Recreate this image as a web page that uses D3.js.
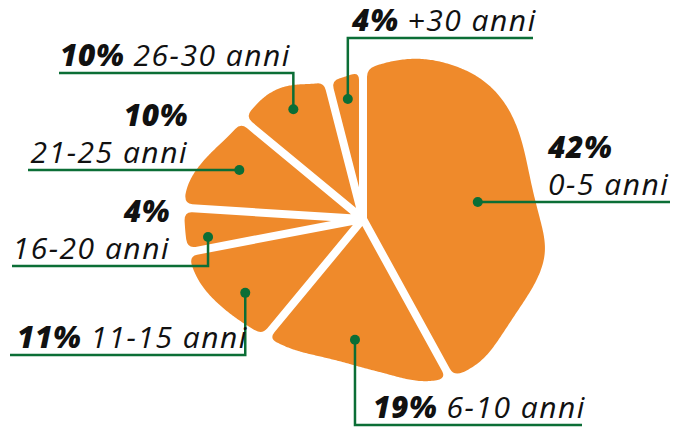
<!DOCTYPE html>
<html>
<head>
<meta charset="utf-8">
<script src="https://cdn.jsdelivr.net/npm/d3@7"></script>
<style>
    body { margin: 0; background: #fff; }
    svg { display: block; }
    .lbl {
        font-family: "Open Sans", sans-serif;
        font-style: italic;
        font-size: 30px;
        letter-spacing: 1.5px;
        fill: #111;
    }
    .lbl .pct { font-weight: 800; letter-spacing: 0.5px; }
</style>
</head>
<body>
<svg id="chart" width="683" height="427"></svg>
<script>
    // data
    const categories = ["0-5 anni", "6-10 anni", "11-15 anni", "16-20 anni", "21-25 anni", "26-30 anni", "+30 anni"];
    const shares = [42, 19, 11, 4, 10, 10, 4];

    // blob outline: radius every 10 degrees, clockwise from 12 o'clock
    const outlineRadius = [
        148, 160, 171, 178, 184, 184, 179, 173, 171, 176,
        187, 184, 179, 180, 186, 182, 174, 157, 148, 143,
        144, 149, 152, 159, 168, 177, 178, 178, 181, 170,
        158, 154, 158, 155, 142, 141
    ];

    // label placement (dot: angle shift in degrees + radius, then leader/underline)
    const labelLayout = [
        {da: 6, r: 116, kind: "h", end: 670, tx: 548, anchor: "start", split: true},
        {da: -1.6, r: 121, kind: "v", ly: 425, end: 582, tx: 373, anchor: "start"},
        {da: -1.5, r: 139, kind: "v", ly: 355, end: 10, tx: 17, anchor: "start"},
        {da: -3, r: 156, kind: "v", ly: 266, end: 12, tx: 170, anchor: "end", split: true},
        {da: 0, r: 133, kind: "h", end: 28, tx: 188, anchor: "end", split: true},
        {da: 0, r: 130, kind: "v", ly: 73, end: 59, tx: 60, anchor: "start"},
        {da: 0, r: 121, kind: "v", ly: 38, end: 533, tx: 352, anchor: "start"}
    ];

    const ORANGE = "#ef8a2b";
    const GREEN = "#0b6e36";
    const cx = 363, cy = 219, gap = 8, corner = 8;

    const svg = d3.select("#chart");

    const rows = categories.map((c, i) => ({cat: c, value: shares[i], layout: labelLayout[i]}));

    const pie = d3.pie()
        .sort(null)
        .value(d => d.value);

    const arcs = pie(rows);

    const basis = d3.interpolateBasisClosed(outlineRadius);
    const R = a => basis(a / (2 * Math.PI));
    const pt = (a, r) => [cx + r * Math.sin(a), cy - r * Math.cos(a)];

    const toward = (p, q, dist) => {
        const dx = q[0] - p[0], dy = q[1] - p[1];
        const len = Math.hypot(dx, dy);
        return [p[0] + dx * dist / len, p[1] + dy * dist / len];
    };

    function slicePath (d) {
        const h = gap / 2;
        const half = (d.endAngle - d.startAngle) / 2;
        const apex = pt(d.startAngle + half, h / Math.sin(half));

        const edgeAngle = (a, sign) => {
            let t = a;
            for (let k = 0; k < 4; k++) t = a + sign * Math.asin(h / R(t));
            return t;
        };
        const t0 = edgeAngle(d.startAngle, 1);
        const t1 = edgeAngle(d.endAngle, -1);
        const steps = Math.max(4, Math.ceil((t1 - t0) / (Math.PI / 360)));
        const pts = d3.range(steps + 1).map(i => {
            const t = t0 + (t1 - t0) * i / steps;
            return pt(t, R(t));
        });

        // how many outline points make up the corner rounding
        let k = 1, acc = 0;
        while (k < pts.length / 2 - 1) {
            acc += Math.hypot(pts[k][0] - pts[k - 1][0], pts[k][1] - pts[k - 1][1]);
            if (acc >= corner) break;
            k++;
        }
        const first = pts[0], last = pts[pts.length - 1];

        const p = d3.path();
        p.moveTo(...apex);
        p.lineTo(...toward(first, apex, corner));
        p.quadraticCurveTo(...first, ...pts[k]);
        for (let i = k + 1; i < pts.length - k; i++) p.lineTo(...pts[i]);
        p.quadraticCurveTo(...last, ...toward(last, apex, corner));
        p.closePath();
        return p.toString();
    }

    svg.append("g")
        .selectAll("path")
        .data(arcs)
        .join("path")
        .attr("d", slicePath)
        .attr("fill", ORANGE);

    // labels
    const labels = svg.append("g")
        .selectAll("g")
        .data(arcs)
        .join("g");

    const dotPos = d => {
        const L = d.data.layout;
        const a = (d.startAngle + d.endAngle) / 2 + L.da * Math.PI / 180;
        return pt(a, L.r);
    };

    labels.append("path")
        .attr("fill", "none")
        .attr("stroke", GREEN)
        .attr("stroke-width", 2.5)
        .attr("d", d => {
            const L = d.data.layout;
            const [x, y] = dotPos(d);
            const p = d3.path();
            p.moveTo(x, y);
            if (L.kind === "v") {
                p.lineTo(x, L.ly);
                p.lineTo(L.end, L.ly);
            } else {
                p.lineTo(L.end, y);
            }
            return p.toString();
        });

    labels.append("circle")
        .attr("cx", d => dotPos(d)[0])
        .attr("cy", d => dotPos(d)[1])
        .attr("r", 5)
        .attr("fill", GREEN);

    const lineY = d => d.data.layout.kind === "v" ? d.data.layout.ly : dotPos(d)[1];

    labels.each(function (d) {
        const L = d.data.layout;
        const g = d3.select(this);
        const y = lineY(d);
        const pct = `${d.data.value}%`;
        if (L.split) {
            g.append("text")
                .attr("class", "lbl")
                .attr("x", L.tx)
                .attr("y", y - 44)
                .attr("text-anchor", L.anchor)
                .append("tspan")
                .attr("class", "pct")
                .text(pct);
            g.append("text")
                .attr("class", "lbl")
                .attr("x", L.tx)
                .attr("y", y - 7)
                .attr("text-anchor", L.anchor)
                .text(d.data.cat);
        } else {
            const t = g.append("text")
                .attr("class", "lbl")
                .attr("x", L.tx)
                .attr("y", y - 7)
                .attr("text-anchor", L.anchor);
            t.append("tspan").attr("class", "pct").text(pct);
            t.append("tspan").text(" " + d.data.cat);
        }
    });
</script>
</body>
</html>
